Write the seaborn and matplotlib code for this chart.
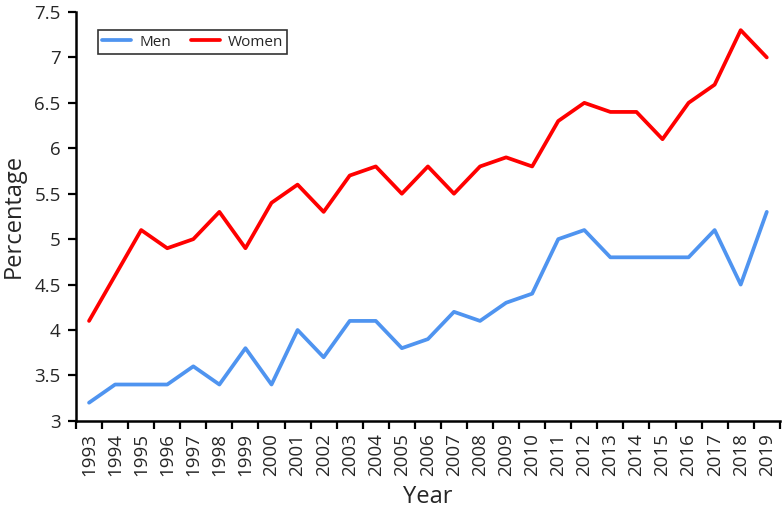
import matplotlib
matplotlib.use("Agg")
import matplotlib.pyplot as plt
import seaborn as sns
import pandas as pd
import numpy as np
from matplotlib.ticker import FixedLocator

years = list(range(1993, 2020))
men = [3.2, 3.4, 3.4, 3.4, 3.6, 3.4, 3.8, 3.4, 4.0, 3.7, 4.1, 4.1, 3.8, 3.9, 4.2,
       4.1, 4.3, 4.4, 5.0, 5.1, 4.8, 4.8, 4.8, 4.8, 5.1, 4.5, 5.3]
women = [4.1, 4.6, 5.1, 4.9, 5.0, 5.3, 4.9, 5.4, 5.6, 5.3, 5.7, 5.8, 5.5, 5.8, 5.5,
         5.8, 5.9, 5.8, 6.3, 6.5, 6.4, 6.4, 6.1, 6.5, 6.7, 7.3, 7.0]
y_ticks = [3, 3.5, 4, 4.5, 5, 5.5, 6, 6.5, 7, 7.5]

sns.set_style("white")
plt.rcParams['font.family'] = ['Open Sans', 'DejaVu Sans']

pos = list(range(len(years)))
df = pd.DataFrame({
    "pos": pos * 2,
    "value": men + women,
    "Sex": ["Men"] * len(years) + ["Women"] * len(years),
})

fig = plt.figure(figsize=(7.82, 5.12), dpi=100)
ax = fig.add_axes([0.0972, 0.178, 0.9, 0.7986])
sns.lineplot(data=df, x="pos", y="value", hue="Sex",
             palette={"Men": "#4f94f0", "Women": "#ff0000"},
             linewidth=2.7, ax=ax, legend=True)

ax.set_xlim(-0.5, len(years) - 0.5)
ax.set_ylim(3, 7.5)
ax.set_yticks(y_ticks)
ax.set_yticklabels([f"{v:g}" for v in y_ticks], fontsize=13.5)
ax.set_xticks(pos)
ax.set_xticklabels([str(y) for y in years], rotation=90, fontsize=13.5)
ax.xaxis.set_minor_locator(FixedLocator(np.arange(-0.5, len(years), 1.0)))
ax.tick_params(axis="x", which="major", length=0, pad=9)
ax.tick_params(axis="x", which="minor", length=6, width=1.6, direction="out", color="black", bottom=True)
ax.tick_params(axis="y", which="major", length=6, width=1.6, direction="out", color="black", left=True, pad=5)

for s in ["top", "right"]:
    ax.spines[s].set_visible(False)
for s in ["left", "bottom"]:
    ax.spines[s].set_color("black")
    ax.spines[s].set_linewidth(1.8)

ax.set_xlabel("Year", fontsize=17, labelpad=6)
ax.set_ylabel("Percentage", fontsize=17, labelpad=6)

leg = ax.legend(loc="upper left", bbox_to_anchor=(0.031, 0.956), borderaxespad=0,
                ncol=2, frameon=True, fancybox=False, edgecolor="black", fontsize=11,
                handlelength=1.9, handletextpad=0.5, columnspacing=1.3, borderpad=0.3)
leg.get_frame().set_linewidth(1.2)
leg.set_title(None)

fig.savefig("out.png", dpi=100)
